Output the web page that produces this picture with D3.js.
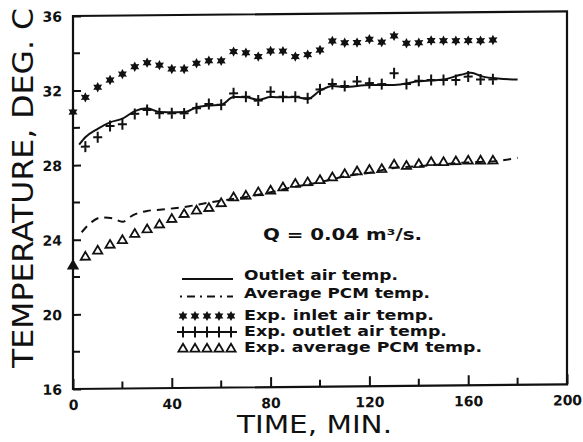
<!DOCTYPE html>
<html>
<head>
<meta charset="utf-8">
<script src="https://cdn.jsdelivr.net/npm/d3@7"></script>
<style>
  body { margin: 0; background: #fff; }
  svg { display: block; }
  text { font-family: "DejaVu Sans", sans-serif; fill: #111; }
</style>
</head>
<body>
<svg id="chart" width="583" height="442"></svg>
<script>
// experimental times, min
var expTimes = [0,5,10,15,20,25,30,35,40,45,50,55,60,65,70,75,80,85,90,95,100,
                105,110,115,120,125,130,135,140,145,150,155,160,165,170];

var expInlet = [30.85,31.63,32.17,32.55,32.86,33.25,33.46,33.32,33.11,33.10,33.40,
                33.53,33.52,34.01,33.94,33.73,34.02,34.01,33.71,33.81,34.05,34.53,
                34.43,34.43,34.60,34.44,34.77,34.37,34.39,34.50,34.49,34.48,34.48,
                34.47,34.50];

var outletTimes = [5,10,15,20,25,30,35,40,45,50,55,60,65,70,75,80,85,90,95,100,
                   105,110,115,120,125,130,135,140,145,150,155,160,165,170];
var expOutlet = [28.99,29.49,30.08,30.17,30.72,30.92,30.74,30.73,30.72,30.99,31.21,
                 31.17,31.77,31.58,31.37,31.84,31.56,31.56,31.47,31.94,32.22,32.11,
                 32.34,32.25,32.19,32.77,32.18,32.35,32.39,32.38,32.37,32.55,32.39,
                 32.39];

var expPcm = [22.65,23.12,23.44,23.75,23.99,24.32,24.56,24.81,25.10,25.36,25.54,
              25.67,25.92,26.23,26.31,26.49,26.57,26.74,26.92,27.00,27.11,27.25,
              27.42,27.56,27.63,27.67,27.90,27.83,27.92,28.02,28.01,28.05,28.08,
              28.07,28.07];

// model curves
var modelOutletT = [2.5,5,10,15,20,25,30,35,45,50,55,60,65,70,75,80,85,90,95,100,
                    105,110,120,130,140,150,157,161,166,172,180];
var modelOutlet = [29.1,29.49,29.94,30.28,30.47,30.87,31.01,30.81,30.79,31.04,31.13,
                   31.17,31.57,31.56,31.41,31.55,31.54,31.54,31.43,31.87,32.12,32.06,
                   32.15,32.14,32.32,32.41,32.65,32.75,32.54,32.43,32.37];

var modelPcmT = [3.5,7.5,11.5,16,20,24,30,36,41,47,53,60,70,80,90,100,110,120,130,
                 140,150,160,170,180];
var modelPcm = [24.4,24.94,25.19,25.13,24.94,25.27,25.51,25.58,25.64,25.74,25.88,
                26.02,26.21,26.45,26.74,26.97,27.26,27.45,27.69,27.77,27.86,27.95,
                27.99,28.17];

var xTicks = [0,40,80,120,160,200];
var xMinor = [20,60,100,140,180];
var yTicks = [16,20,24,28,32,36];
var yMinor = [18,22,26,30,34];

var legendLabels = ["Outlet air temp.", "Average PCM temp.", "Exp. inlet air temp.",
                    "Exp. outlet air temp.", "Exp. average PCM temp."];

/*
	Plot area
 */
var plot = { left: 73, right: 567, top: 16, bottom: 389 };

var svg = d3.select('#chart');

var x = d3.scaleLinear().domain([0, 200]).range([plot.left, plot.right]);
var y = d3.scaleLinear().domain([16, 36]).range([plot.bottom, plot.top]);

// the scan is slightly sheared, right side sits ~5px higher
var k = -0.0095;
var g = svg.append('g')
	.attr('transform', 'matrix(1,' + k + ',0,1,0,' + (-k * plot.left) + ')');

function star(r) {
	var p = [];
	for (var i = 0; i < 12; i++) {
		var a = i * Math.PI / 6 - Math.PI / 2, rr = i % 2 ? r * 0.55 : r;
		p.push([Math.cos(a) * rr, Math.sin(a) * rr]);
	}
	return 'M' + p.join('L') + 'Z';
}
var crossPath = 'M-4.5,0H4.5M0,-5.5V5.5';
var triPath = 'M0,-4.2L4.6,3.6L-4.6,3.6Z';

/*
	Axes
 */
var yAxis = d3.axisLeft(y).tickValues(yTicks).tickSizeInner(-8).tickSizeOuter(0).tickPadding(11);
var xAxis = d3.axisBottom(x).tickValues(xTicks).tickSizeInner(-10).tickSizeOuter(0).tickPadding(11);

var ya = g.append('g').attr('transform', 'translate(' + plot.left + ',0)').call(yAxis);
var xa = g.append('g').attr('transform', 'translate(0,' + plot.bottom + ')').call(xAxis);

[ya, xa].forEach(function(a){
	a.select('.domain').remove();
	a.selectAll('line').attr('stroke', '#111').attr('stroke-width', 2);
	a.selectAll('text').style('font-size', '14px').style('font-weight', 'bold')
		.style('font-family', '"DejaVu Sans", sans-serif').attr('fill', '#111');
});
ya.selectAll('text').attr('dy', '0.36em');

g.selectAll('.ymin').data(yMinor).enter().append('line')
	.attr('x1', plot.left).attr('x2', plot.left + 7)
	.attr('y1', function(d){ return y(d); }).attr('y2', function(d){ return y(d); })
	.attr('stroke', '#111').attr('stroke-width', 2);

g.selectAll('.xmin').data(xMinor).enter().append('line')
	.attr('x1', function(d){ return x(d); }).attr('x2', function(d){ return x(d); })
	.attr('y1', plot.bottom).attr('y2', plot.bottom - 7)
	.attr('stroke', '#111').attr('stroke-width', 2);

g.append('rect')
	.attr('x', x(0)).attr('y', y(36))
	.attr('width', x(200) - x(0)).attr('height', y(16) - y(36))
	.attr('fill', 'none').attr('stroke', '#111').attr('stroke-width', 2.2);

/*
	Model lines
 */
var line = d3.line()
	.x(function(d){ return x(d[0]); })
	.y(function(d){ return y(d[1]); })
	.curve(d3.curveMonotoneX);

g.append('path').attr('d', line(d3.zip(modelOutletT, modelOutlet)))
	.attr('fill', 'none').attr('stroke', '#111').attr('stroke-width', 2);

g.append('path').attr('d', line(d3.zip(modelPcmT, modelPcm)))
	.attr('fill', 'none').attr('stroke', '#111').attr('stroke-width', 2)
	.attr('stroke-dasharray', '8,6');

/*
	Experimental points
 */
g.selectAll('.inlet').data(d3.zip(expTimes, expInlet)).enter().append('path')
	.attr('d', star(5.2))
	.attr('transform', function(d){ return 'translate(' + x(d[0]) + ',' + y(d[1]) + ')'; })
	.attr('fill', '#111');

g.selectAll('.outlet').data(d3.zip(outletTimes, expOutlet)).enter().append('path')
	.attr('d', crossPath)
	.attr('transform', function(d){ return 'translate(' + x(d[0]) + ',' + y(d[1]) + ')'; })
	.attr('fill', 'none').attr('stroke', '#111').attr('stroke-width', 2);

g.selectAll('.pcm').data(d3.zip(expTimes, expPcm)).enter().append('path')
	.attr('d', triPath)
	.attr('transform', function(d){ return 'translate(' + x(d[0]) + ',' + y(d[1]) + ')'; })
	.attr('fill', function(d, i){ return i === 0 ? '#111' : 'none'; })
	.attr('stroke', '#111').attr('stroke-width', 1.8);

/*
	Annotation and legend
 */
svg.append('text').attr('x', 263).attr('y', 240)
	.attr('textLength', 159).attr('lengthAdjust', 'spacingAndGlyphs')
	.style('font-size', '15px').style('font-weight', 'bold')
	.text('Q = 0.04 m\u00b3/s.');

var legY = [279, 296.5, 316, 332, 348];
var legBase = [280, 298, 319.5, 336, 352];
var legW = [154, 186, 190, 203, 238];
var legX0 = 180, legX1 = 234, sampleX = [183, 195, 207, 219, 231];

var leg = svg.append('g');

leg.selectAll('text').data(legendLabels).enter().append('text')
	.attr('x', 244).attr('y', function(d, i){ return legBase[i]; })
	.attr('textLength', function(d, i){ return legW[i]; })
	.attr('lengthAdjust', 'spacingAndGlyphs')
	.style('font-size', '13.5px').style('font-weight', 'bold')
	.text(function(d){ return d; });

leg.append('line').attr('x1', legX0 + 2).attr('x2', legX1 - 1)
	.attr('y1', legY[0]).attr('y2', legY[0]).attr('stroke', '#111').attr('stroke-width', 2);
leg.append('line').attr('x1', legX0).attr('x2', legX1 - 1)
	.attr('y1', legY[1]).attr('y2', legY[1]).attr('stroke', '#111').attr('stroke-width', 2)
	.attr('stroke-dasharray', '2,5,8,5');

leg.selectAll('.ls').data(sampleX).enter().append('path').attr('d', star(5))
	.attr('transform', function(d){ return 'translate(' + d + ',' + legY[2] + ')'; })
	.attr('fill', '#111');

leg.append('line').attr('x1', legX0 - 3).attr('x2', legX1 + 3)
	.attr('y1', legY[3]).attr('y2', legY[3]).attr('stroke', '#111').attr('stroke-width', 2);
leg.selectAll('.lc').data(sampleX).enter().append('path').attr('d', crossPath)
	.attr('transform', function(d){ return 'translate(' + d + ',' + legY[3] + ')'; })
	.attr('fill', 'none').attr('stroke', '#111').attr('stroke-width', 2);

leg.selectAll('.lt').data(sampleX).enter().append('path').attr('d', triPath)
	.attr('transform', function(d){ return 'translate(' + d + ',' + legY[4] + ')'; })
	.attr('fill', 'none').attr('stroke', '#111').attr('stroke-width', 1.8);

/*
	Axis titles
 */
svg.append('text').attr('x', 237).attr('y', 433)
	.attr('textLength', 155).attr('lengthAdjust', 'spacingAndGlyphs')
	.style('font-size', '25px')
	.text('TIME, MIN.');

svg.append('text')
	.attr('transform', 'translate(33,188) rotate(-90)')
	.attr('text-anchor', 'middle')
	.attr('textLength', 360).attr('lengthAdjust', 'spacingAndGlyphs')
	.style('font-size', '29px')
	.text('TEMPERATURE, DEG. C');
</script>
</body>
</html>
